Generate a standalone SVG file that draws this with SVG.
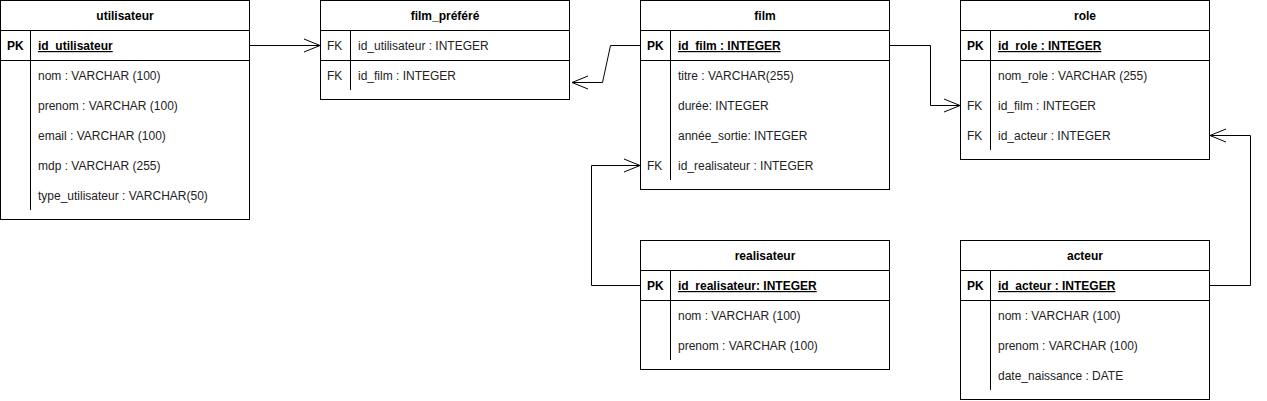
<svg xmlns="http://www.w3.org/2000/svg" width="1267" height="401" viewBox="0 0 1267 401">
<defs>
<marker id="arr" markerUnits="userSpaceOnUse" viewBox="0 0 17 14" markerWidth="17" markerHeight="14" refX="16" refY="7" orient="auto" overflow="visible">
<path d="M0,0.5 L16,7 L0,13.5" fill="none" stroke="#000" stroke-width="1"/>
</marker>
<style>
.box{fill:#fff;stroke:#000;stroke-width:1}
.ln{fill:none;stroke:#000;stroke-width:1}
text{font-family:"Liberation Sans",Arial,sans-serif;font-size:12px;fill:#000}
.t{font-weight:bold;text-anchor:middle}
.k{font-weight:bold}
.u{font-weight:bold;text-decoration:underline}
.f{fill:#222}
.c{fill:none;stroke:#000;stroke-width:1}
</style>
</defs>
<rect width="1267" height="401" fill="#fff"/>

<g id="utilisateur">
<rect class="box" x="0.5" y="0.5" width="249" height="219"/>
<path class="ln" d="M0.5,30.5H249.5M0.5,60.5H249.5M30.5,30.5V210"/>
<text class="t" x="125" y="20">utilisateur</text>
<text class="k" x="7" y="50">PK</text>
<text class="u" x="38" y="50">id_utilisateur</text>
<text class="f" x="38" y="80">nom : VARCHAR (100)</text>
<text class="f" x="38" y="110">prenom : VARCHAR (100)</text>
<text class="f" x="38" y="140">email : VARCHAR (100)</text>
<text class="f" x="38" y="170">mdp : VARCHAR (255)</text>
<text class="f" x="38" y="200">type_utilisateur : VARCHAR(50)</text>
</g>

<g id="film_prefere">
<rect class="box" x="320.5" y="0.5" width="249" height="99"/>
<path class="ln" d="M320.5,30.5H569.5M320.5,60.5H569.5M350.5,30.5V90"/>
<text class="t" x="445" y="20">film_préféré</text>
<text class="f" x="327" y="50">FK</text>
<text class="f" x="358" y="50">id_utilisateur : INTEGER</text>
<text class="f" x="327" y="80">FK</text>
<text class="f" x="358" y="80">id_film : INTEGER</text>
</g>

<g id="film">
<rect class="box" x="640.5" y="0.5" width="249" height="189"/>
<path class="ln" d="M640.5,30.5H889.5M640.5,60.5H889.5M670.5,30.5V180"/>
<text class="t" x="765" y="20">film</text>
<text class="k" x="647" y="50">PK</text>
<text class="u" x="678" y="50">id_film : INTEGER</text>
<text class="f" x="678" y="80">titre : VARCHAR(255)</text>
<text class="f" x="678" y="110">durée: INTEGER</text>
<text class="f" x="678" y="140">année_sortie: INTEGER</text>
<text class="f" x="647" y="170">FK</text>
<text class="f" x="678" y="170">id_realisateur : INTEGER</text>
</g>

<g id="role">
<rect class="box" x="960.5" y="0.5" width="249" height="159"/>
<path class="ln" d="M960.5,30.5H1209.5M960.5,60.5H1209.5M990.5,30.5V150"/>
<text class="t" x="1085" y="20">role</text>
<text class="k" x="967" y="50">PK</text>
<text class="u" x="998" y="50">id_role : INTEGER</text>
<text class="f" x="998" y="80">nom_role : VARCHAR (255)</text>
<text class="f" x="967" y="110">FK</text>
<text class="f" x="998" y="110">id_film : INTEGER</text>
<text class="f" x="967" y="140">FK</text>
<text class="f" x="998" y="140">id_acteur : INTEGER</text>
</g>

<g id="realisateur">
<rect class="box" x="640.5" y="240.5" width="249" height="129"/>
<path class="ln" d="M640.5,270.5H889.5M640.5,300.5H889.5M670.5,270.5V360"/>
<text class="t" x="765" y="260">realisateur</text>
<text class="k" x="647" y="290">PK</text>
<text class="u" x="678" y="290">id_realisateur: INTEGER</text>
<text class="f" x="678" y="320">nom : VARCHAR (100)</text>
<text class="f" x="678" y="350">prenom : VARCHAR (100)</text>
</g>

<g id="acteur">
<rect class="box" x="960.5" y="240.5" width="249" height="159"/>
<path class="ln" d="M960.5,270.5H1209.5M960.5,300.5H1209.5M990.5,270.5V390"/>
<text class="t" x="1085" y="260">acteur</text>
<text class="k" x="967" y="290">PK</text>
<text class="u" x="998" y="290">id_acteur : INTEGER</text>
<text class="f" x="998" y="320">nom : VARCHAR (100)</text>
<text class="f" x="998" y="350">prenom : VARCHAR (100)</text>
<text class="f" x="998" y="380">date_naissance : DATE</text>
</g>

<g id="connectors">
<path class="c" d="M250,45.5H320" marker-end="url(#arr)"/>
<path class="c" d="M640,45.5H610.5L602.5,82.5H572" marker-end="url(#arr)"/>
<path class="c" d="M640,285.5H591.5V165.5H640" marker-end="url(#arr)"/>
<path class="c" d="M890,45.5H930.5V105.5H960" marker-end="url(#arr)"/>
<path class="c" d="M1210,285.5H1250.5V135.5H1210" marker-end="url(#arr)"/>
</g>
</svg>
